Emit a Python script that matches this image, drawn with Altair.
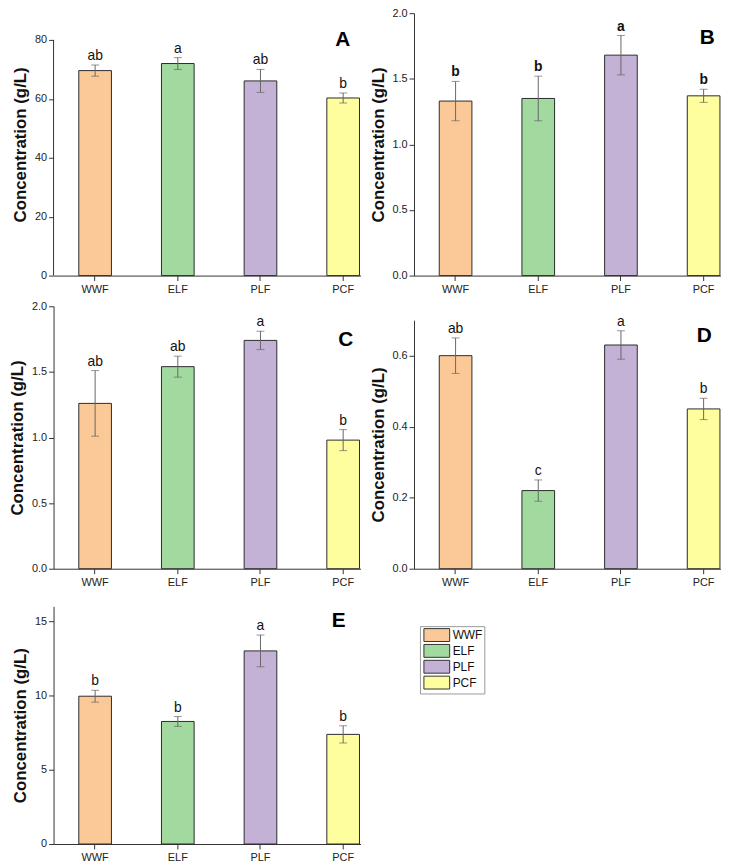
import altair as alt
import pandas as pd

categories = ["WWF", "ELF", "PLF", "PCF"]
colors = ["#FBC998", "#A1D99F", "#C3B2D6", "#FEFE9F"]

a_mean = [69.6, 72.0, 66.1, 60.3]
a_err = [1.9, 2.0, 3.9, 1.7]
a_sig = ["ab", "a", "ab", "b"]

b_mean = [1.33, 1.35, 1.68, 1.37]
b_err = [0.15, 0.17, 0.15, 0.05]
b_sig = ["b", "b", "a", "b"]

c_mean = [1.26, 1.54, 1.74, 0.98]
c_err = [0.25, 0.08, 0.07, 0.08]
c_sig = ["ab", "ab", "a", "b"]

d_mean = [0.60, 0.22, 0.63, 0.45]
d_err = [0.05, 0.03, 0.04, 0.03]
d_sig = ["ab", "c", "a", "b"]

e_mean = [9.95, 8.25, 13.0, 7.38]
e_err = [0.40, 0.33, 1.07, 0.58]
e_sig = ["b", "b", "a", "b"]

FONT = "Liberation Sans"
W = 310


def panel(mean, err, sig, axis_max, major, minor, fmt, height, letter, lx, ly,
          sig_bold=False, view_max=None):
    df = pd.DataFrame({
        "cat": categories,
        "mean": mean,
        "lo": [m - e for m, e in zip(mean, err)],
        "hi": [m + e for m, e in zip(mean, err)],
        "sig": sig,
    })
    top = view_max if view_max is not None else axis_max
    n_ticks = int(round(axis_max / minor)) + 1
    vals = [round(i * minor, 6) for i in range(n_ticks) if i * minor <= axis_max + 1e-9]
    minor_test = f"abs(datum.value/{major} - round(datum.value/{major})) > 0.001"
    yaxis = alt.Axis(
        title="Concentration (g/L)",
        values=vals,
        labelExpr=f"{minor_test} ? '' : format(datum.value, '{fmt}')",
        tickSize={"condition": {"test": minor_test, "value": 3}, "value": 5},
        labelOverlap=False,
        grid=False,
        domain=view_max is None,
        labelFontSize=11,
        labelPadding=2,
        titleFontSize=17,
        titleFontWeight="bold",
        titlePadding=5,
    )
    xscale = alt.Scale(paddingInner=0.605, paddingOuter=0.159, align=0.96)
    xenc = alt.X("cat:N", sort=categories, scale=xscale,
                 axis=alt.Axis(title=None, labelAngle=0, tickSize=5,
                               labelFontSize=11, labelPadding=3, grid=False))
    yscale = alt.Scale(domain=[0, top], nice=False, zero=True)
    base = alt.Chart(df).encode(x=xenc)
    bars = base.mark_bar(stroke="#2a2a2a", strokeWidth=1).encode(
        y=alt.Y("mean:Q", scale=yscale, axis=yaxis),
        color=alt.Color("cat:N", scale=alt.Scale(domain=categories, range=colors),
                        legend=alt.Legend(
                            title=None, orient="none", legendX=370, legendY=619,
                            symbolType="M-2,-1H2V1H-2Z", symbolSize=169,
                            symbolStrokeColor="#333", symbolStrokeWidth=1,
                            symbolOpacity=1, symbolOffset=8,
                            labelFontSize=12, labelFont=FONT,
                            labelColor="#111", strokeColor="#999", padding=2,
                            rowPadding=-4, labelOffset=9, fillColor="white")),
    )
    rule = base.mark_rule(color="#666", strokeWidth=1).encode(
        y=alt.Y("lo:Q", scale=yscale), y2="hi:Q")
    cap_lo = base.mark_tick(color="#666", thickness=1, size=8).encode(
        y=alt.Y("lo:Q", scale=yscale))
    cap_hi = base.mark_tick(color="#666", thickness=1, size=8).encode(
        y=alt.Y("hi:Q", scale=yscale))
    txt = base.mark_text(baseline="bottom", dy=-2, fontSize=14, font=FONT,
                         color="#111",
                         fontWeight="bold" if sig_bold else "normal").encode(
        y=alt.Y("hi:Q", scale=yscale), text="sig:N")
    lab = alt.Chart(pd.DataFrame({"t": [letter]})).mark_text(
        fontSize=21, fontWeight="bold", font=FONT, color="#000",
        baseline="middle", align="center").encode(
        x=alt.value(lx), y=alt.value(ly), text="t:N")
    layers = [bars, rule, cap_lo, cap_hi, txt, lab]
    if view_max is not None:
        # y-axis line that stops at the last axis value
        axline = alt.Chart(pd.DataFrame({"a": [0], "b": [axis_max]})).mark_rule(
            color="#333", strokeWidth=1).encode(
            x=alt.value(0), y=alt.Y("a:Q", scale=yscale), y2="b:Q")
        layers.append(axline)
    return alt.layer(*layers).properties(width=W, height=height)


pA = panel(a_mean, a_err, a_sig, 80, 20, 10, "d", 265, "A", 292, 27, view_max=89.1)
pB = panel(b_mean, b_err, b_sig, 2.0, 0.5, 0.25, ".1f", 265, "B", 296, 25, sig_bold=True)
pC = panel(c_mean, c_err, c_sig, 2.0, 0.5, 0.25, ".1f", 265, "C", 295, 34)
pD = panel(d_mean, d_err, d_sig, 0.7, 0.2, 0.1, ".1f", 251, "D", 293, 16)
pE = panel(e_mean, e_err, e_sig, 16, 5, 2.5, "d", 240, "E", 288, 15)

left = alt.vconcat(alt.vconcat(pA, pC, spacing=6), pE, spacing=19)
right = alt.vconcat(pB, pD, spacing=20)
chart = alt.hconcat(left, right, spacing=8).properties(
    padding={"left": 0, "top": -5, "right": 0, "bottom": 0}
).configure_view(stroke=None).configure_axis(
    labelFont=FONT, titleFont=FONT, labelColor="#222", titleColor="#111",
    domainColor="#333", tickColor="#333", domainWidth=1, tickWidth=1,
).configure_legend(labelFont=FONT)

chart.save("out.html", embed_options={"renderer": "svg", "actions": False})
